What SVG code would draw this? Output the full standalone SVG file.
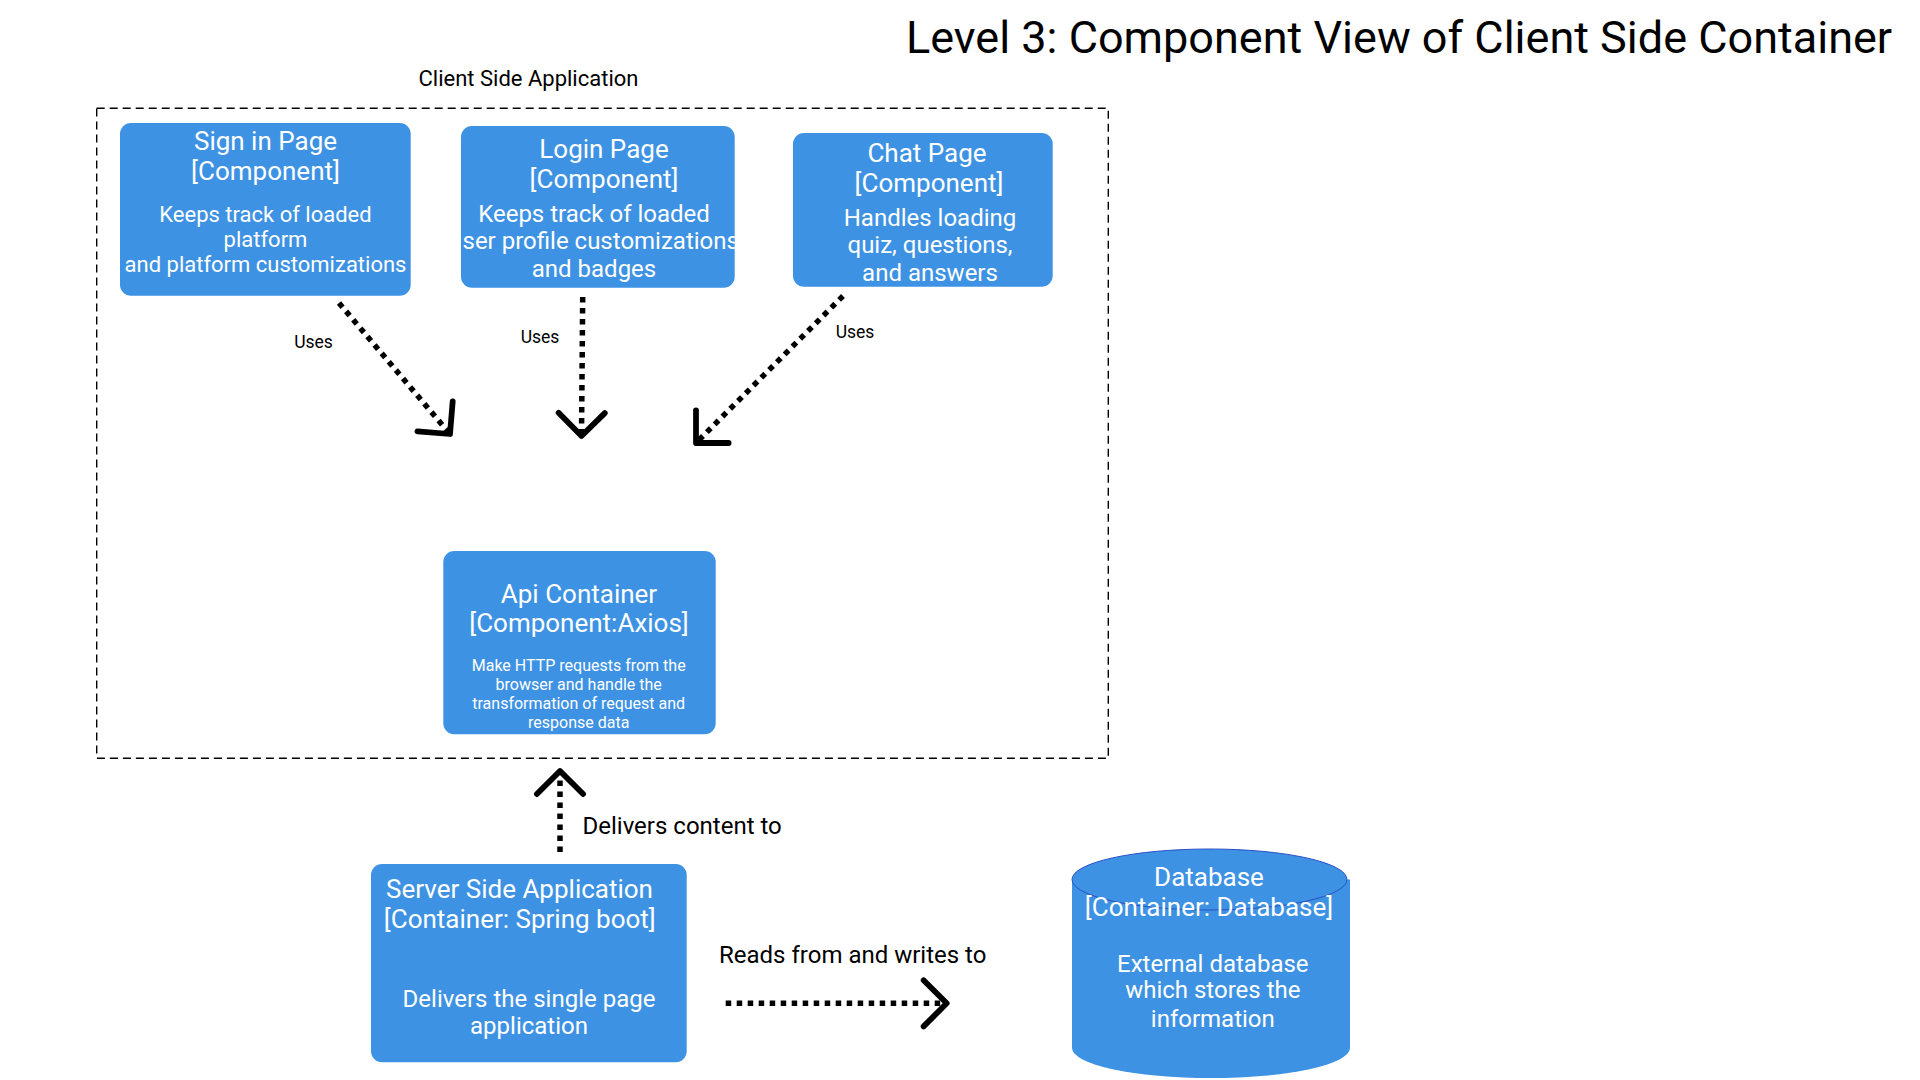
<svg xmlns="http://www.w3.org/2000/svg" width="1920" height="1080" viewBox="0 0 1920 1080">
<style>
  text { font-family: Roboto, "Liberation Sans", Arial, sans-serif; }
  .box { fill: #3e92e3; }
  .w { fill: #ffffff; text-anchor: middle; }
  .h { font-size: 26px; }
  .d { font-size: 24px; }
  .d22 { font-size: 22px; }
  .d16 { font-size: 16px; }
  .lbl { fill: #000000; }
  .uses { font-size: 17.5px; text-anchor: middle; }
  .dots { fill: none; stroke: #000; stroke-width: 5.5; stroke-dasharray: 5.5 5.5; marker-end: url(#open); }
  .frame { fill: none; stroke: #000; stroke-width: 1.4; stroke-dasharray: 8 5; }
</style>
<defs>
  <marker id="open" markerUnits="userSpaceOnUse" markerWidth="40" markerHeight="60" viewBox="-26 -26 30 52" refX="0" refY="0" orient="auto" overflow="visible">
    <path d="M-20,-20 L0,0 L-20,20" fill="none" stroke="#000" stroke-width="5" stroke-linecap="round" stroke-linejoin="round"/>
  </marker>
  <clipPath id="loginClip"><rect x="461" y="126" width="273.7" height="161.7" rx="11"/></clipPath>
</defs>
<rect width="1920" height="1080" fill="#ffffff"/>

<text id="title" x="906" y="53.3" font-size="45" class="lbl">Level 3: Component View of Client Side Container</text>

<g id="client-side-application">
  <rect class="frame" x="96.7" y="108.3" width="1011.6" height="650"/>
  <text x="528.5" y="86" font-size="22" class="lbl" text-anchor="middle">Client Side Application</text>
</g>

<g id="sign-in-page">
  <rect class="box" x="120" y="123" width="290.7" height="172.7" rx="11"/>
  <text class="w h" x="265.5" y="150">Sign in Page</text>
  <text class="w h" x="265.5" y="179.5">[Component]</text>
  <text class="w d22" x="265.5" y="221.7">Keeps track of loaded</text>
  <text class="w d22" x="265.5" y="246.7">platform</text>
  <text class="w d22" x="265.5" y="272">and platform customizations</text>
</g>

<g id="login-page">
  <rect class="box" x="461" y="126" width="273.7" height="161.7" rx="11"/>
  <text class="w h" x="604" y="158">Login Page</text>
  <text class="w h" x="604" y="187.5">[Component]</text>
  <g clip-path="url(#loginClip)">
    <text class="w d" x="594" y="221.7">Keeps track of loaded</text>
    <text class="d" x="462.5" y="249.3" fill="#ffffff">ser profile customizations</text>
    <text class="w d" x="594" y="277.3">and badges</text>
  </g>
</g>

<g id="chat-page">
  <rect class="box" x="793" y="133" width="259.7" height="153.7" rx="11"/>
  <text class="w h" x="927" y="162.3">Chat Page</text>
  <text class="w h" x="929" y="192">[Component]</text>
  <text class="w d" x="930" y="225.7">Handles loading</text>
  <text class="w d" x="930" y="253.3">quiz, questions,</text>
  <text class="w d" x="930" y="281">and answers</text>
</g>

<g id="api-container">
  <rect class="box" x="443.3" y="551" width="272.4" height="183.3" rx="11"/>
  <text class="w h" x="579" y="603.3">Api Container</text>
  <text class="w h" x="579" y="632.3">[Component:Axios]</text>
  <text class="w d16" x="578.7" y="671">Make HTTP requests from the</text>
  <text class="w d16" x="578.7" y="690">browser and handle the</text>
  <text class="w d16" x="578.7" y="709">transformation of request and</text>
  <text class="w d16" x="578.7" y="727.7">response data</text>
</g>

<g id="server-side-application">
  <rect class="box" x="371" y="864" width="315.7" height="198.3" rx="11"/>
  <text class="w h" x="519.5" y="898.3">Server Side Application</text>
  <text class="w h" x="519.8" y="928">[Container: Spring boot]</text>
  <text class="w d" x="529" y="1006.7">Delivers the single page</text>
  <text class="w d" x="529" y="1034.3">application</text>
</g>

<g id="database">
  <path class="box" d="M1072,879.5 V1048 A139,30 0 0 0 1350,1048 V879.5 Z"/>
  <ellipse cx="1209.5" cy="879.5" rx="137.5" ry="30.5" fill="#3e92e3" stroke="#2a50c6" stroke-width="1"/>
  <text class="w h" x="1209" y="885.5">Database</text>
  <text class="w h" x="1209" y="915.5">[Container: Database]</text>
  <text class="w d" x="1212.8" y="971.7">External database</text>
  <text class="w d" x="1212.8" y="998.3">which stores the</text>
  <text class="w d" x="1212.8" y="1026.7">information</text>
</g>

<g id="connectors">
  <path class="dots" d="M339,303 L450,434"/>
  <path class="dots" d="M582.7,297 L581.5,436"/>
  <path class="dots" d="M843,296 L696,443"/>
  <path class="dots" d="M560,852 L560,771"/>
  <path class="dots" d="M725.7,1003.3 L946.7,1003.3"/>
  <text class="lbl uses" x="313.5" y="348">Uses</text>
  <text class="lbl uses" x="540" y="342.7">Uses</text>
  <text class="lbl uses" x="855" y="338.3">Uses</text>
  <text class="lbl" x="582.5" y="834.3" font-size="24">Delivers content to</text>
  <text class="lbl" x="719" y="963.3" font-size="24">Reads from and writes to</text>
</g>
</svg>
